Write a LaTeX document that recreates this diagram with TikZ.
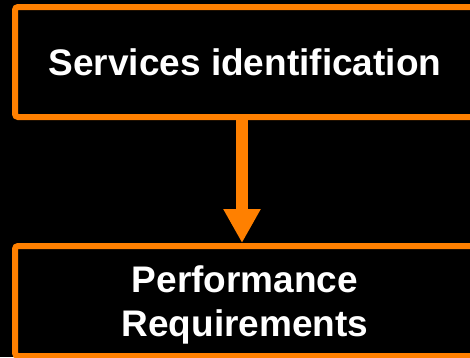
\documentclass[tikz,border=0pt]{standalone}
\usepackage{fontspec}
\setmainfont{Liberation Sans}
\usetikzlibrary{arrows.meta}
\definecolor{boxorange}{HTML}{FF8000}

\begin{document}
\begin{tikzpicture}[x=1pt, y=1pt,
	stagebox/.style={draw=boxorange, line width=6pt, rounded corners=3pt, text=white,
		font=\fontsize{37}{44}\selectfont\bfseries, align=center, inner sep=0pt,
		minimum width=460pt, minimum height=110pt}]
	 \fill[black] (0,0) rectangle (470,-357);
	 \useasboundingbox (0,0) rectangle (470,-357);
	 %
	 \node[stagebox] (services) at (245,-62) {Services identification};
	 \node[stagebox, text depth=0pt] (perfreq) at (245,-301) {Performance\\Requirements};
	 \draw[boxorange, line width=12pt, -{Triangle[width=35pt, length=34pt]}]
	 	([xshift=-3pt]services.south) -- ([xshift=-3pt]perfreq.north);
\end{tikzpicture}
\end{document}
